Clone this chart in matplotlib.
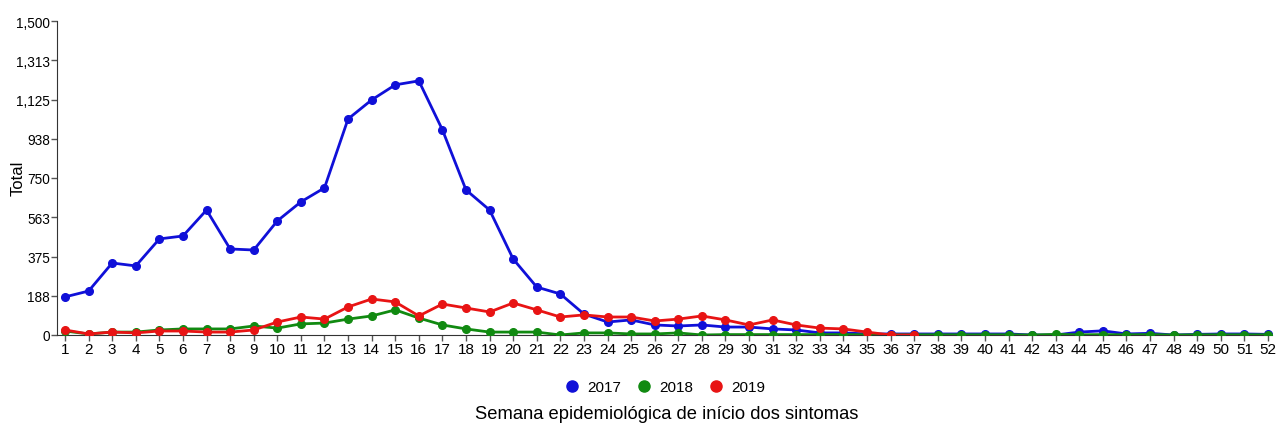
import matplotlib
matplotlib.use("Agg")
import matplotlib.pyplot as plt
import numpy as np

plt.rcParams['font.family'] = ['Liberation Sans', 'DejaVu Sans']

weeks = list(range(1, 53))
v2017 = [182, 210, 344, 330, 459, 473, 597, 411, 406, 545, 636, 703, 1032, 1123, 1195, 1214,
         980, 693, 597, 363, 229, 196, 100, 62, 72, 48, 43, 48, 38, 38, 29, 24, 10, 10, 5,
         5, 5, 5, 5, 5, 5, 0, 0, 14, 20, 5, 8, 0, 3, 5, 5, 3]
v2018 = [19, 5, 14, 14, 24, 29, 29, 29, 43, 33, 53, 57, 76, 91, 120, 81, 48, 29, 14, 14, 14,
         0, 10, 10, 5, 5, 10, 0, 2, 2, 2, 2, 2, 2, 1, 1, 1, 1, 1, 1, 1, 0, 3, 1, 2, 1, 2,
         0, 1, 1, 1, 1]
weeks2019 = list(range(1, 38))
v2019 = [24, 5, 14, 10, 19, 19, 14, 14, 24, 62, 86, 76, 134, 172, 158, 91, 148, 129, 110, 153,
         120, 86, 96, 86, 86, 67, 76, 91, 72, 48, 72, 48, 33, 29, 14, 0, 0]

yticks = [0, 187.5, 375, 562.5, 750, 937.5, 1125, 1312.5, 1500]
ytick_labels = ['0', '188', '375', '563', '750', '938', '1,125', '1,313', '1,500']

fig = plt.figure(figsize=(12.77, 4.27), dpi=100)
ax = fig.add_axes([57/1277, 1 - 336/427, (1272-57)/1277, (336-22)/427])

series = [(weeks, v2017, '#1010d8', '2017'),
          (weeks, v2018, '#118a11', '2018'),
          (weeks2019, v2019, '#e81414', '2019')]
handles = []
for x, y, c, lab in series:
    ax.plot(x, y, color=c, lw=2, marker='o', ms=5.5, zorder=3)
    h, = ax.plot([], [], ls='none', marker='o', ms=8, color=c, label=lab)
    handles.append(h)

ax.set_xlim(0.66, 52.17)
ax.set_ylim(0, 1500)
ax.set_xticks(weeks)
ax.set_xticklabels([str(w) for w in weeks], fontsize=11)
ax.set_yticks(yticks)
ax.set_yticklabels(ytick_labels, fontsize=9.8)
ax.tick_params(axis='both', length=4, width=1, color='#555555', pad=1)
for s in ['top', 'right']:
    ax.spines[s].set_visible(False)
for s in ['left', 'bottom']:
    ax.spines[s].set_color('#333333')

fig.text(18/1277, 1 - 178/427, 'Total', rotation=90, ha='center', va='center', fontsize=12)

fig.legend(handles=handles, loc='center', bbox_to_anchor=(664/1277, 1 - 388/427), ncol=3,
           frameon=False, fontsize=11, handletextpad=0.4, columnspacing=0.9, handlelength=1.2)
fig.text(667/1277, 1 - 415/427, 'Semana epidemiológica de início dos sintomas', ha='center',
         va='center', fontsize=13.2)

fig.savefig('out.png', dpi=100)
